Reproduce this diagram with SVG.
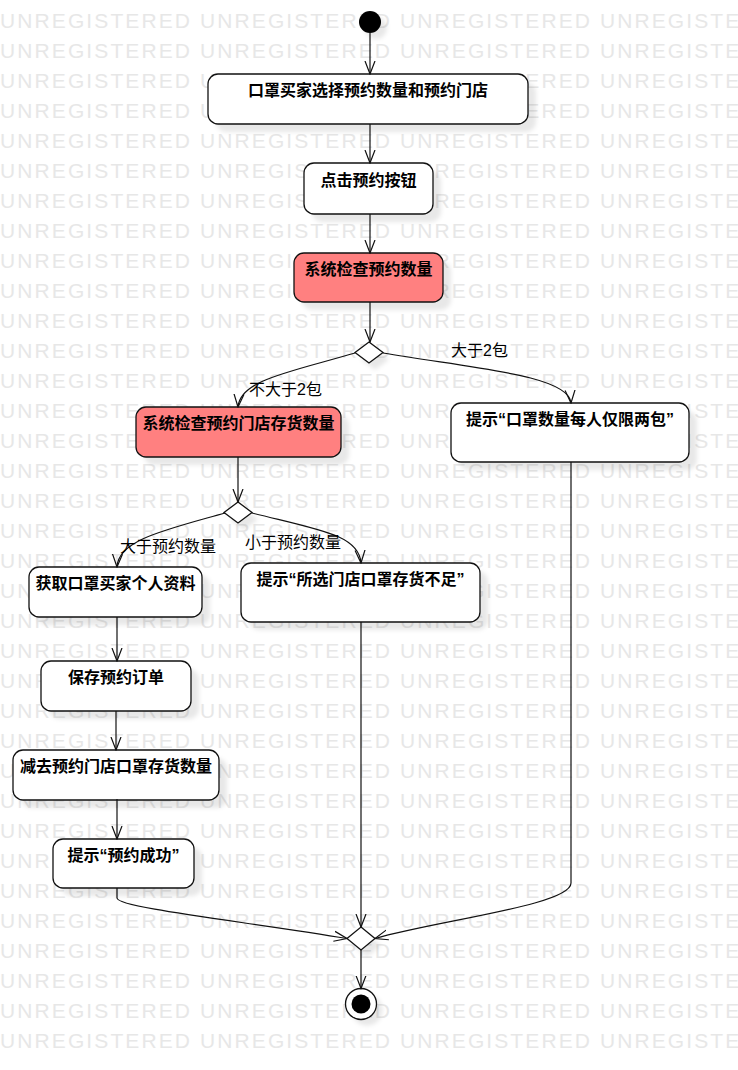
<svg xmlns="http://www.w3.org/2000/svg" xmlns:xlink="http://www.w3.org/1999/xlink" width="738" height="1070" viewBox="0 0 738 1070">
<style>
.wm{font-family:"Liberation Sans",Arial,sans-serif;font-size:21px;fill:#e7e7e7;letter-spacing:2.1px}
.box{fill:#fff;stroke:#111;stroke-width:1.3}
.red{fill:#ff8080;stroke:#111;stroke-width:1.3}
.sh{fill:#000;fill-opacity:.09;filter:url(#blur)}
.nt{font-family:"Liberation Sans","Noto Sans CJK SC",sans-serif;font-size:16px;font-weight:bold;fill:#000;text-anchor:middle}
.lb{font-family:"Liberation Sans","Noto Sans CJK SC",sans-serif;font-size:16px;fill:#000}
.ln{fill:none;stroke:#111;stroke-width:1.2;marker-end:url(#arr)}
.dm{fill:#fff;stroke:#111;stroke-width:1.3}
</style>
<defs>
<filter id="blur" x="-20%" y="-20%" width="140%" height="140%"><feGaussianBlur stdDeviation="2"/></filter>
<marker id="arr" markerWidth="14" markerHeight="12" refX="13" refY="6" orient="auto" markerUnits="userSpaceOnUse"><path d="M0,1 L13,6 L0,11" fill="none" stroke="#111" stroke-width="1.2"/></marker>
<text id="wmrow" class="wm" x="0" y="28.3">UNREGISTERED UNREGISTERED UNREGISTERED UNREGISTERED</text>
</defs>
<rect width="738" height="1070" fill="#fff"/>
<g id="watermark">
<use xlink:href="#wmrow" y="0"/><use xlink:href="#wmrow" y="30"/><use xlink:href="#wmrow" y="60"/><use xlink:href="#wmrow" y="90"/><use xlink:href="#wmrow" y="120"/>
<use xlink:href="#wmrow" y="150"/><use xlink:href="#wmrow" y="180"/><use xlink:href="#wmrow" y="210"/><use xlink:href="#wmrow" y="240"/><use xlink:href="#wmrow" y="270"/>
<use xlink:href="#wmrow" y="300"/><use xlink:href="#wmrow" y="330"/><use xlink:href="#wmrow" y="360"/><use xlink:href="#wmrow" y="390"/><use xlink:href="#wmrow" y="420"/>
<use xlink:href="#wmrow" y="450"/><use xlink:href="#wmrow" y="480"/><use xlink:href="#wmrow" y="510"/><use xlink:href="#wmrow" y="540"/><use xlink:href="#wmrow" y="570"/>
<use xlink:href="#wmrow" y="600"/><use xlink:href="#wmrow" y="630"/><use xlink:href="#wmrow" y="660"/><use xlink:href="#wmrow" y="690"/><use xlink:href="#wmrow" y="720"/>
<use xlink:href="#wmrow" y="750"/><use xlink:href="#wmrow" y="780"/><use xlink:href="#wmrow" y="810"/><use xlink:href="#wmrow" y="840"/><use xlink:href="#wmrow" y="870"/>
<use xlink:href="#wmrow" y="900"/><use xlink:href="#wmrow" y="930"/><use xlink:href="#wmrow" y="960"/><use xlink:href="#wmrow" y="990"/><use xlink:href="#wmrow" y="1020"/>
</g>

<g id="start"><circle cx="376" cy="28" r="11" class="sh"/><circle cx="370" cy="22" r="11" fill="#000"/></g>

<g id="n1"><rect x="216" y="82" width="320" height="50" rx="10" class="sh"/><rect x="208" y="74" width="320" height="50" rx="10" class="box"/><text x="368" y="96" class="nt">口罩买家选择预约数量和预约门店</text></g>
<g id="n2"><rect x="312" y="171" width="129" height="51" rx="10" class="sh"/><rect x="304" y="163" width="129" height="51" rx="10" class="box"/><text x="368.5" y="186" class="nt">点击预约按钮</text></g>
<g id="n3"><rect x="302" y="261" width="149" height="49" rx="10" class="sh"/><rect x="294" y="253" width="149" height="49" rx="10" class="red"/><text x="368.5" y="275" class="nt">系统检查预约数量</text></g>
<g id="d1"><path d="M375,349 L389,359.5 L375,370 L361,359.5 Z" class="sh"/><path d="M369,342 L383,352.5 L369,363 L355,352.5 Z" class="dm"/></g>
<g id="n4"><rect x="144" y="415" width="205" height="50" rx="10" class="sh"/><rect x="136" y="407" width="205" height="50" rx="10" class="red"/><text x="238.5" y="429" class="nt">系统检查预约门店存货数量</text></g>
<g id="n5"><rect x="459" y="411" width="238" height="59" rx="10" class="sh"/><rect x="451" y="403" width="238" height="59" rx="10" class="box"/><text x="570" y="425" class="nt">提示“口罩数量每人仅限两包”</text></g>
<g id="d2"><path d="M244,509 L258,519.5 L244,530 L230,519.5 Z" class="sh"/><path d="M238,502 L252,512.5 L238,523 L224,512.5 Z" class="dm"/></g>
<g id="n6"><rect x="37" y="575" width="173" height="50" rx="10" class="sh"/><rect x="29" y="567" width="173" height="50" rx="10" class="box"/><text x="115.5" y="589" class="nt">获取口罩买家个人资料</text></g>
<g id="n7"><rect x="249" y="571" width="239" height="59" rx="10" class="sh"/><rect x="241" y="563" width="239" height="59" rx="10" class="box"/><text x="360.5" y="585" class="nt">提示“所选门店口罩存货不足”</text></g>
<g id="n8"><rect x="49" y="669" width="150" height="50" rx="10" class="sh"/><rect x="41" y="661" width="150" height="50" rx="10" class="box"/><text x="116" y="683" class="nt">保存预约订单</text></g>
<g id="n9"><rect x="21" y="758" width="206" height="50" rx="10" class="sh"/><rect x="13" y="750" width="206" height="50" rx="10" class="box"/><text x="116" y="772" class="nt">减去预约门店口罩存货数量</text></g>
<g id="n10"><rect x="61" y="847" width="141" height="49" rx="10" class="sh"/><rect x="53" y="839" width="141" height="49" rx="10" class="box"/><text x="123.5" y="861" class="nt">提示“预约成功”</text></g>
<g id="d3"><path d="M367,934 L381,945.5 L367,957 L353,945.5 Z" class="sh"/><path d="M361,927 L375,938.5 L361,950 L347,938.5 Z" class="dm"/></g>
<g id="end"><circle cx="367" cy="1010" r="15.5" class="sh"/><circle cx="361" cy="1004" r="15.5" fill="#fff" stroke="#111" stroke-width="1.3"/><circle cx="361" cy="1004" r="9.5" fill="#000"/></g>

<g id="connectors">
<path d="M370,33 V74" class="ln"/>
<path d="M370,124 V163" class="ln"/>
<path d="M370,214 V253" class="ln"/>
<path d="M370,302 V342" class="ln"/>
<path d="M355,353 C290,372 240,380 238,407" class="ln"/>
<path d="M383,353 C470,368 569,375 571,403" class="ln"/>
<path d="M238,457 V502" class="ln"/>
<path d="M225,513 C165,530 118,540 117,567" class="ln"/>
<path d="M252,513 C320,530 359,535 361,563" class="ln"/>
<path d="M117,617 V661" class="ln"/>
<path d="M116,711 V750" class="ln"/>
<path d="M117,799 V839" class="ln"/>
<path d="M117,888 V898 C117,908 250,922 347,938.5" class="ln"/>
<path d="M361,622 V927" class="ln"/>
<path d="M571,462 V883 C571,905 440,920 375,938.5" class="ln"/>
<path d="M361,950 V988.5" class="ln"/>
<text x="451" y="356" class="lb">大于2包</text>
<text x="249" y="395" class="lb">不大于2包</text>
<text x="120" y="552" class="lb">大于预约数量</text>
<text x="245" y="548" class="lb">小于预约数量</text>
</g>
</svg>
